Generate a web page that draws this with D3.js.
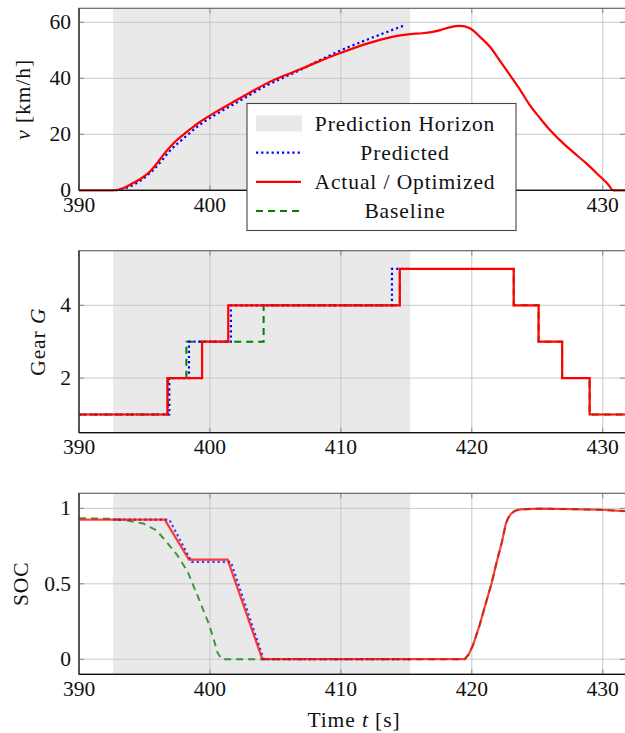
<!DOCTYPE html>
<html>
<head>
<meta charset="utf-8">
<script src="https://cdn.jsdelivr.net/npm/d3@7"></script>
<style>
  body { margin: 0; background: #fff; }
  svg { display: block; font-family: "Liberation Serif", "Times New Roman", serif; }
  .tick-label { font-size: 21.5px; fill: #111; }
  .axis-label { font-size: 21.5px; fill: #111; letter-spacing: 0.9px; }
  .legend-text { font-size: 21.5px; fill: #111; letter-spacing: 0.9px; }
</style>
</head>
<body>
<div id="chart"></div>
<script>
// time range and prediction horizon
var timeDomain = [390, 431.7];
var horizon = [392.6, 415.3];
var xTicks = [390, 400, 410, 420, 430];

// velocity v [km/h]
var velActualT = [390, 392.6, 393.4, 394.1, 394.8, 395.4, 395.9, 396.4, 396.9, 397.4, 398.0, 398.6, 399.2, 400.5, 401.8, 403.1, 404.3, 405.6, 406.9, 408.1, 410.0, 412.0, 414.0, 415.3, 416.2, 417.0, 417.6, 418.3, 419.1, 419.85, 420.6, 421.4, 422.1, 422.9, 423.7, 424.4, 425.2, 425.95, 426.7, 427.7, 428.75, 429.8, 430.4, 430.8, 431.7];
var velActual  = [0, 0, 0.8, 2.5, 4.4, 6.6, 9.3, 12.4, 15.2, 17.6, 20.0, 22.2, 24.3, 28.1, 31.6, 35.0, 38.1, 40.8, 43.2, 45.6, 49.1, 52.4, 54.9, 55.8, 56.1, 56.6, 57.2, 58.2, 58.7, 57.9, 54.9, 51.2, 46.6, 41.2, 35.8, 30.6, 25.8, 21.6, 18.0, 13.8, 9.6, 4.9, 2.2, 0, 0];
var velPredT = [392.8, 393.6, 394.4, 395.4, 396.2, 396.9, 398.0, 399.2, 400.5, 401.8, 403.1, 404.3, 405.6, 406.9, 408.1, 410.0, 412.0, 414.0, 414.9];
var velPred  = [0, 0.8, 2.6, 6.1, 9.9, 13.9, 18.6, 23.3, 27.2, 30.7, 34.2, 37.4, 40.2, 43.0, 45.8, 50.0, 53.8, 57.4, 59.0];

// gear G (step after)
var gearActualT = [390, 396.75, 399.4, 401.4, 414.5, 423.2, 425.1, 426.9, 429.0, 431.7];
var gearActual  = [1, 2, 3, 4, 5, 4, 3, 2, 1, 1];
var gearPredT = [390, 396.9, 398.4, 401.6, 413.9, 415.3];
var gearPred  = [1, 2, 3, 4, 5, 5];
var gearBaseT = [390, 396.8, 398.2, 404.1, 414.5, 423.2, 425.1, 426.9, 429.0, 431.7];
var gearBase  = [1, 2, 3, 4, 5, 4, 3, 2, 1, 1];

// state of charge
var socActualT = [390, 396.55, 398.4, 401.35, 404.0, 419.45, 419.75, 420.1, 420.6, 421.1, 421.5, 421.9, 422.3, 422.6, 422.8, 423.0, 423.3, 423.7, 425.2, 427.5, 429.8, 431.7];
var socActual  = [0.925, 0.925, 0.66, 0.66, 0, 0, 0.03, 0.095, 0.227, 0.38, 0.5, 0.645, 0.777, 0.9, 0.94, 0.965, 0.984, 0.993, 0.998, 0.995, 0.991, 0.982];
var socPredT = [392.6, 396.9, 398.6, 401.6, 404.1, 415.3];
var socPred  = [0.925, 0.925, 0.645, 0.645, 0, 0];
var socBaseT = [390, 392.6, 393.6, 394.9, 395.9, 396.7, 397.5, 398.3, 399.2, 400.0, 400.6, 400.9, 419.45, 419.75, 420.1, 420.6, 421.1, 421.5, 421.9, 422.3, 422.6, 422.8, 423.0, 423.3, 423.7, 425.2, 427.5, 429.8, 431.7];
var socBase  = [0.935, 0.93, 0.92, 0.9, 0.855, 0.777, 0.69, 0.58, 0.39, 0.215, 0.04, 0, 0, 0.03, 0.095, 0.227, 0.38, 0.5, 0.645, 0.777, 0.9, 0.94, 0.965, 0.984, 0.993, 0.998, 0.995, 0.991, 0.982];

var width = 625, height = 733;
var left = 79, right = 625;

var svg = d3.select('#chart')
            .append('svg')
            .attr('width', width)
            .attr('height', height)

var x = d3.scaleLinear().domain(timeDomain).range([left, right]);

function zip(ts, vs) { return ts.map(function (t, i) { return [t, vs[i]]; }); }

var panels = [
  { top: 8.3, bottom: 190.3, domain: [0, 65], ticks: [0, 20, 40, 60], fmt: d3.format('d'),
    label: ['v', ' [km/h]'], labelX: 22, italicFirst: true, opacity: 1, curve: d3.curveMonotoneX,
    series: [
      { data: zip(velPredT, velPred), kind: 'pred' },
      { data: zip(velActualT, velActual), kind: 'act' }
    ] },
  { top: 250.7, bottom: 432.7, domain: [0.5, 5.5], ticks: [2, 4], fmt: d3.format('d'),
    label: ['Gear ', 'G'], labelX: 37, italicFirst: false, opacity: 1, curve: d3.curveStepAfter,
    series: [
      { data: zip(gearBaseT, gearBase), kind: 'base' },
      { data: zip(gearPredT, gearPred), kind: 'pred' },
      { data: zip(gearActualT, gearActual), kind: 'act' }
    ] },
  { top: 493.3, bottom: 674.3, domain: [-0.1, 1.1], ticks: [0, 0.5, 1], fmt: function (d) { return d === 0.5 ? '0.5' : d3.format('d')(d); },
    label: ['SOC'], labelX: 20, italicFirst: false, opacity: 0.75, curve: d3.curveLinear,
    series: [
      { data: zip(socBaseT, socBase), kind: 'base' },
      { data: zip(socPredT, socPred), kind: 'pred' },
      { data: zip(socActualT, socActual), kind: 'act' }
    ] }
];

var styles = {
  act:  { stroke: '#ff0000', width: 2.2, dash: null },
  pred: { stroke: '#0000ff', width: 2.2, dash: '2.2,3' },
  base: { stroke: '#008000', width: 2, dash: '7,5' }
};

svg.append('clipPath').attr('id', 'clipAll')
   .append('rect').attr('x', left).attr('y', 0).attr('width', right - left).attr('height', height);

panels.forEach(function (p, idx) {
  var y = d3.scaleLinear().domain(p.domain).range([p.bottom, p.top]);
  var g = svg.append('g');

  // prediction horizon shade
  g.append('rect')
   .attr('x', x(horizon[0]))
   .attr('y', p.top)
   .attr('width', x(horizon[1]) - x(horizon[0]))
   .attr('height', p.bottom - p.top)
   .attr('fill', '#e9e9e9');

  // grid
  g.selectAll('.vgrid').data(xTicks).enter().append('line')
   .attr('x1', function (d) { return x(d); }).attr('x2', function (d) { return x(d); })
   .attr('y1', p.top).attr('y2', p.bottom)
   .attr('stroke', '#c4c4c4').attr('stroke-width', 0.9);
  g.selectAll('.hgrid').data(p.ticks).enter().append('line')
   .attr('x1', left).attr('x2', right)
   .attr('y1', function (d) { return y(d); }).attr('y2', function (d) { return y(d); })
   .attr('stroke', '#c4c4c4').attr('stroke-width', 0.9);

  // tick marks (inward, both sides)
  xTicks.forEach(function (t) {
    g.append('line').attr('x1', x(t)).attr('x2', x(t)).attr('y1', p.top).attr('y2', p.top + 5).attr('stroke', '#888');
    g.append('line').attr('x1', x(t)).attr('x2', x(t)).attr('y1', p.bottom).attr('y2', p.bottom - 5).attr('stroke', '#888');
  });
  p.ticks.forEach(function (t) {
    g.append('line').attr('x1', left).attr('x2', left + 5).attr('y1', y(t)).attr('y2', y(t)).attr('stroke', '#888');
    g.append('line').attr('x1', right).attr('x2', right - 5).attr('y1', y(t)).attr('y2', y(t)).attr('stroke', '#888');
  });

  // series
  var line = d3.line()
    .x(function (d) { return x(d[0]); })
    .y(function (d) { return y(d[1]); })
    .curve(p.curve);

  var order = p.series.slice().sort(function (a, b) {
    var rank = { base: 0, pred: 1, act: 2 };
    return rank[a.kind] - rank[b.kind];
  });
  order.forEach(function (s) {
    var st = styles[s.kind];
    g.append('path')
     .attr('d', line(s.data))
     .attr('fill', 'none')
     .attr('stroke', st.stroke)
     .attr('stroke-width', st.width)
     .attr('stroke-dasharray', st.dash)
     .attr('stroke-opacity', p.opacity)
     .attr('clip-path', 'url(#clipAll)');
  });

  // frame
  g.append('rect')
   .attr('x', left).attr('y', p.top)
   .attr('width', right - left + 2).attr('height', p.bottom - p.top)
   .attr('fill', 'none').attr('stroke', '#666').attr('stroke-width', 1.2);
  g.append('line').attr('x1', left).attr('x2', right).attr('y1', p.bottom).attr('y2', p.bottom)
   .attr('stroke', '#111').attr('stroke-width', 1.3);
  g.append('line').attr('x1', left).attr('x2', left).attr('y1', p.top).attr('y2', p.bottom)
   .attr('stroke', '#333').attr('stroke-width', 1.3);

  // tick labels
  g.selectAll('.xtl').data(xTicks).enter().append('text')
   .attr('class', 'tick-label')
   .attr('x', function (d) { return x(d); })
   .attr('y', p.bottom + 21.5)
   .attr('text-anchor', 'middle')
   .text(function (d) { return d; });
  g.selectAll('.ytl').data(p.ticks).enter().append('text')
   .attr('class', 'tick-label')
   .attr('x', 71)
   .attr('y', function (d) { return y(d); })
   .attr('dy', '0.33em')
   .attr('text-anchor', 'end')
   .text(p.fmt);

  // y label
  var lab = g.append('text')
   .attr('class', 'axis-label')
   .attr('transform', 'translate(' + p.labelX + ',' + ((p.top + p.bottom) / 2) + ')rotate(-90)')
   .attr('text-anchor', 'middle')
   .attr('dy', '0.35em');
  p.label.forEach(function (part, i) {
    var ts = lab.append('tspan').text(part);
    var italic = (p.italicFirst && i === 0) || (!p.italicFirst && i === 1);
    if (italic) ts.attr('font-style', 'italic');
  });
});

// x label
var xl = svg.append('text')
   .attr('class', 'axis-label')
   .attr('x', 354)
   .attr('y', 727)
   .attr('text-anchor', 'middle');
xl.append('tspan').text('Time ');
xl.append('tspan').attr('font-style', 'italic').text('t');
xl.append('tspan').text(' [s]');

// legend
var legendItems = [
  { label: 'Prediction Horizon', kind: 'shade' },
  { label: 'Predicted', kind: 'pred' },
  { label: 'Actual / Optimized', kind: 'act' },
  { label: 'Baseline', kind: 'base' }
];
var legend = svg.append('g');
legend.append('rect')
   .attr('x', 247).attr('y', 103.5)
   .attr('width', 269).attr('height', 127)
   .attr('fill', '#fff').attr('stroke', '#444').attr('stroke-width', 1.1);

legendItems.forEach(function (it, i) {
  var cy = 123.5 + i * 29.2;
  if (it.kind === 'shade') {
    legend.append('rect').attr('x', 256).attr('y', cy - 8).attr('width', 46).attr('height', 16).attr('fill', '#e9e9e9');
  } else {
    var st = styles[it.kind];
    legend.append('line').attr('x1', 256).attr('x2', 301).attr('y1', cy).attr('y2', cy)
      .attr('stroke', st.stroke).attr('stroke-width', st.width).attr('stroke-dasharray', st.dash);
  }
  legend.append('text')
    .attr('class', 'legend-text')
    .attr('x', 405)
    .attr('y', cy)
    .attr('dy', '0.33em')
    .attr('text-anchor', 'middle')
    .text(it.label);
});
</script>
</body>
</html>
